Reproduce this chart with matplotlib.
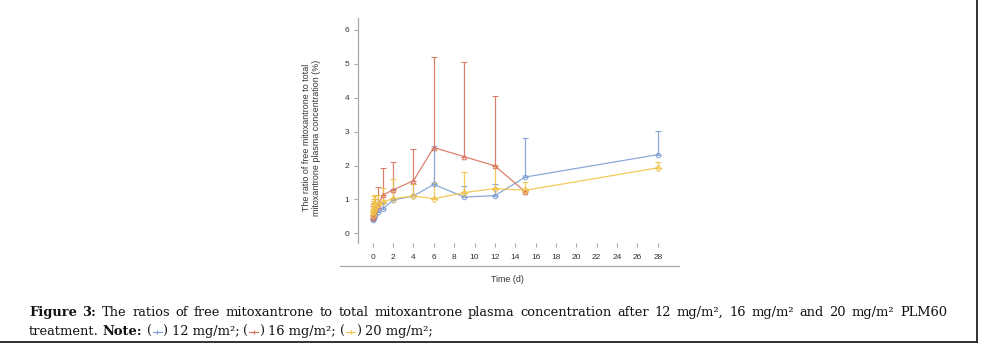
import matplotlib
matplotlib.use('Agg')
import matplotlib.pyplot as plt
from matplotlib.lines import Line2D

# ---------------- data ----------------
times_12 = [0.02, 0.04, 0.08, 0.17, 0.25, 0.5, 1, 2, 4, 6, 9, 12, 15, 28]
ratio_12 = [0.38, 0.42, 0.45, 0.50, 0.53, 0.62, 0.72, 0.98, 1.10, 1.44, 1.07, 1.11, 1.66, 2.32]
upper_12 = [0.50, 0.55, 0.60, 0.63, 0.66, 0.76, 0.90, 1.31, 1.44, 2.58, 1.40, 1.45, 2.80, 3.01]

times_16 = [0.02, 0.04, 0.08, 0.17, 0.25, 0.5, 1, 2, 4, 6, 9, 12, 15]
ratio_16 = [0.45, 0.50, 0.55, 0.60, 0.70, 0.82, 1.13, 1.28, 1.55, 2.53, 2.26, 1.99, 1.22]
upper_16 = [0.70, 0.80, 0.85, 0.90, 1.00, 1.37, 1.92, 2.11, 2.48, 5.19, 5.04, 4.06, 1.26]

times_20 = [0.02, 0.04, 0.08, 0.17, 0.25, 0.5, 1, 2, 4, 6, 9, 12, 15, 28]
ratio_20 = [0.55, 0.62, 0.70, 0.75, 0.80, 0.85, 0.93, 1.02, 1.10, 1.02, 1.20, 1.32, 1.27, 1.93]
upper_20 = [0.85, 0.95, 1.00, 1.10, 1.13, 1.12, 1.33, 1.61, 1.45, 1.48, 1.82, 2.02, 1.52, 2.09]

x_ticks = list(range(0, 29, 2))
y_ticks = [0, 1, 2, 3, 4, 5, 6]
ylabel = "The ratio of free mitoxantrone to total\nmitoxantrone plasma concentration (%)"
xlabel = "Time (d)"
doses = ["12", "16", "20"]

C_BLUE = "#7f9fd3"
C_RED = "#d8735e"
C_YEL = "#f0c44a"
GREY = "#a8a8a8"

W, H = 984, 347
fig = plt.figure(figsize=(W / 100, H / 100), dpi=100)

def fx(px):
    return px / W

def fy(py):
    return 1 - py / H

ax_left, ax_right, ax_top, ax_bot = 357.7, 679.0, 18.0, 243.0
ax = fig.add_axes([fx(ax_left), fy(ax_bot), fx(ax_right - ax_left), (ax_bot - ax_top) / H])

day0_px, day_px = 372.7, 10.18
ax.set_xlim((ax_left - day0_px) / day_px, (ax_right - day0_px) / day_px)
zero_py, unit_py = 233.3, 33.9
ax.set_ylim((zero_py - ax_bot) / unit_py, (zero_py - ax_top) / unit_py)

series = [
    (times_12, ratio_12, upper_12, C_BLUE, 'o'),
    (times_16, ratio_16, upper_16, C_RED, '^'),
    (times_20, ratio_20, upper_20, C_YEL, 'D'),
]
for t, v, u, c, m in series:
    err = [[0] * len(v), [b - a for a, b in zip(v, u)]]
    ax.errorbar(t, v, yerr=err, color=c, lw=0.9, elinewidth=0.9, capsize=2.0,
                capthick=0.8, marker=m, markersize=3.2, markerfacecolor='none',
                markeredgewidth=0.8, alpha=0.9)

for s in ['top', 'right', 'bottom']:
    ax.spines[s].set_visible(False)
ax.spines['left'].set_color(GREY)
ax.spines['left'].set_linewidth(0.9)

ax.set_xticks(x_ticks)
ax.set_yticks(y_ticks)
tick_font = dict(family='Liberation Sans', size=6.0, color='#333333')
ax.set_xticklabels([str(v) for v in x_ticks], fontdict=tick_font)
ax.set_yticklabels([str(v) for v in y_ticks], fontdict=tick_font)
ax.tick_params(axis='x', length=3, width=0.8, color=GREY, pad=5.0)
ax.tick_params(axis='y', length=3, width=0.8, color=GREY, pad=3)

# separate x axis baseline under tick labels
fig.add_artist(Line2D([fx(340), fx(679)], [fy(265.7), fy(265.7)], color=GREY, lw=0.9))

fig.text(fx(311.5), fy(137.5), ylabel, rotation=90, ha='center', va='center',
         family='Liberation Sans', size=6.4, color='#333333', linespacing=1.25)
fig.text(fx(507), fy(280), xlabel, ha='center', va='center',
         family='Liberation Sans', size=6.4, color='#333333')

# frame lines
fig.add_artist(Line2D([fx(977), fx(977)], [fy(0), fy(342)], color='#222222', lw=1.3))
fig.add_artist(Line2D([fx(0), fx(977)], [fy(342), fy(342)], color='#222222', lw=1.3))

# ---------------- caption ----------------
cap_font = 'DejaVu Serif'
cap_size = 9.4
renderer = fig.canvas.get_renderer()

line1 = [("Figure", 'bold'), ("3:", 'bold'), ("The", 'normal'), ("ratios", 'normal'),
         ("of", 'normal'), ("free", 'normal'), ("mitoxantrone", 'normal'), ("to", 'normal'),
         ("total", 'normal'), ("mitoxantrone", 'normal'), ("plasma", 'normal'),
         ("concentration", 'normal'), ("after", 'normal'), ("12", 'normal'),
         ("mg/m²,", 'normal'), ("16", 'normal'), ("mg/m²", 'normal'), ("and", 'normal'),
         ("20", 'normal'), ("mg/m²", 'normal'), ("PLM60", 'normal')]
x0, x1 = 29.0, 947.0
y1, y2 = 312.5, 331.5
texts = []
for w, wt in line1:
    t = fig.text(0, fy(y1), w, ha='left', va='center', family=cap_font, size=cap_size,
                 weight=wt, color='#111111')
    texts.append(t)
widths = [t.get_window_extent(renderer).width for t in texts]
gap = (x1 - x0 - sum(widths)) / (len(texts) - 1)
x = x0
for t, wd in zip(texts, widths):
    t.set_x(fx(x))
    x += wd + gap

def put(txt, x, wt='normal'):
    t = fig.text(fx(x), fy(y2), txt, ha='left', va='center', family=cap_font,
                 size=cap_size, weight=wt, color='#111111')
    return x + t.get_window_extent(renderer).width

sp = 4.0
x = x0
x = put("treatment.", x) + sp
x = put("Note:", x, 'bold') + sp
for i, (d, c) in enumerate(zip(doses, [C_BLUE, C_RED, C_YEL])):
    x = put("(", x) + 1
    fig.add_artist(Line2D([fx(x), fx(x + 9)], [fy(y2), fy(y2)], color=c, lw=0.8))
    fig.add_artist(Line2D([fx(x + 4.5)], [fy(y2)], color=c, marker='+', markersize=3, mew=0.8))
    x += 10
    x = put(")", x) + sp
    x = put(d + " mg/m²;", x) + sp

fig.savefig("out.png", dpi=100)
